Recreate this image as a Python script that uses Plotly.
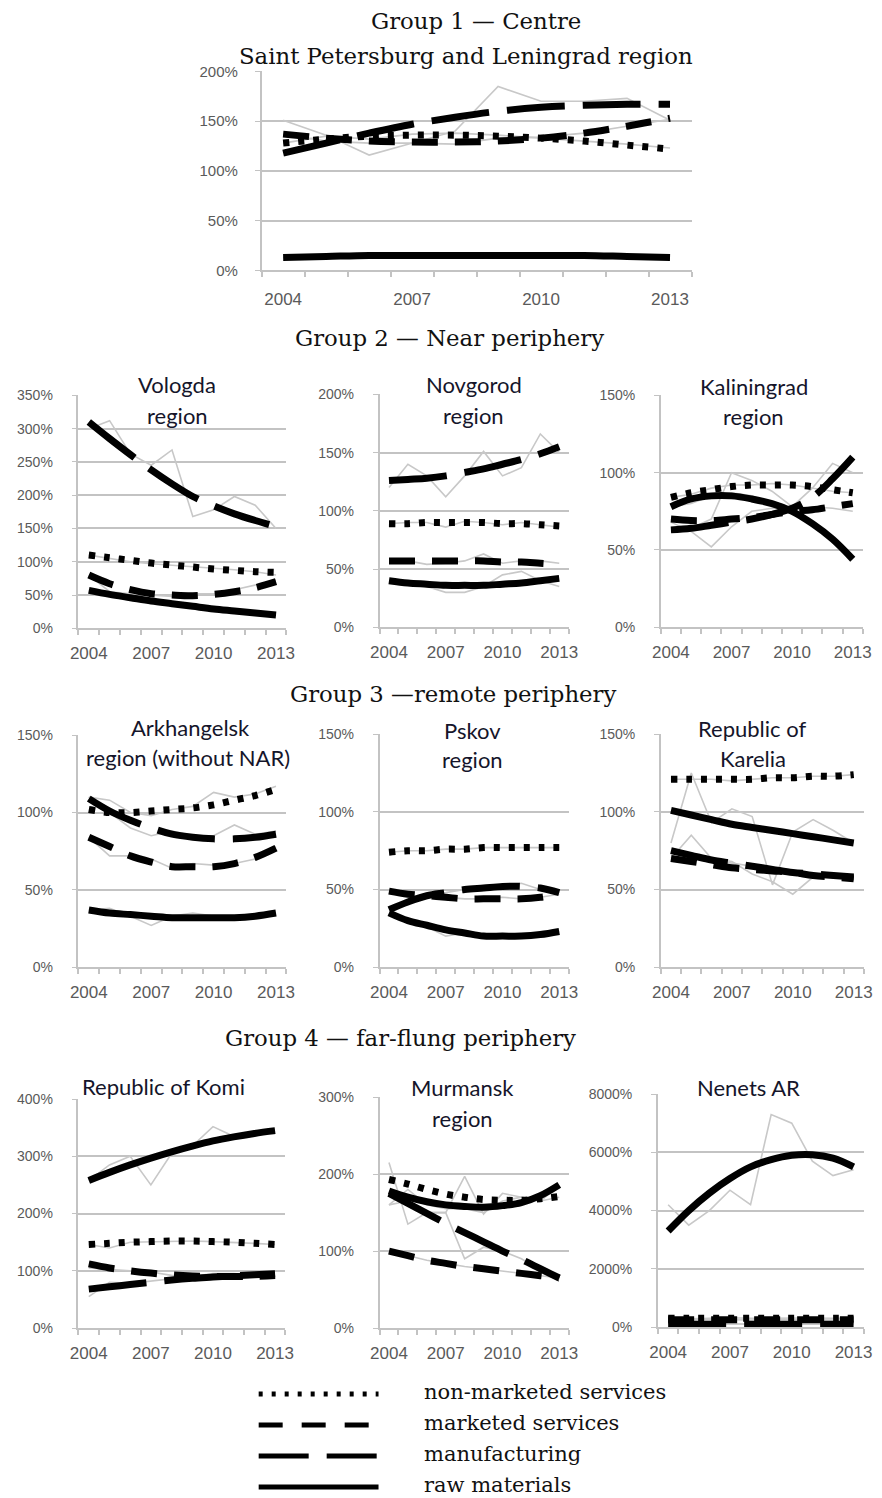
import plotly.graph_objects as go

W, H = 882, 1498
YEARS = list(range(2004, 2014))
X_LABELS = [2004, 2007, 2010, 2013]
SERIES = ["non-marketed services", "marketed services", "manufacturing", "raw materials"]

# ---------- Group 1: Saint Petersburg and Leningrad region ----------
spb_nonmkt_actual = [128, 135, 132, 137, 138, 136, 133, 130, 127, 123]
spb_nonmkt_trend = [128, 132, 135, 136, 136, 135, 133, 130, 126, 122]
spb_mkt_actual = [137, 130, 128, 128, 127, 133, 134, 138, 145, 152]
spb_mkt_trend = [137, 133, 130, 129, 129, 130, 133, 138, 145, 153]
spb_manuf_actual = [151, 136, 116, 128, 140, 185, 170, 170, 173, 151]
spb_manuf_trend = [118, 128, 138, 147, 154, 160, 164, 166, 167, 167]
spb_raw_actual = [13, 14, 15, 15, 15, 15, 15, 15, 14, 13]
spb_raw_trend = [13, 14, 15, 15, 15, 15, 15, 15, 14, 13]

# ---------- Group 2 ----------
vol_nonmkt_actual = [110, 105, 100, 97, 95, 93, 90, 88, 85, 80]
vol_nonmkt_trend = [110, 106, 102, 98, 95, 92, 89, 87, 85, 84]
vol_mkt_actual = [80, 55, 52, 50, 48, 52, 52, 58, 65, 72]
vol_mkt_trend = [80, 67, 58, 52, 50, 49, 51, 55, 61, 70]
vol_manuf_actual = [300, 312, 262, 245, 268, 168, 178, 198, 185, 150]
vol_manuf_trend = [310, 285, 261, 238, 217, 198, 184, 172, 162, 153]
vol_raw_actual = [57, 50, 46, 42, 37, 33, 30, 26, 23, 20]
vol_raw_trend = [57, 51, 46, 41, 37, 33, 29, 26, 23, 20]

nov_nonmkt_actual = [89, 90, 90, 86, 91, 90, 88, 90, 88, 86]
nov_nonmkt_trend = [89, 89, 90, 90, 90, 90, 89, 89, 88, 87]
nov_mkt_actual = [57, 57, 54, 55, 57, 63, 55, 57, 57, 55]
nov_mkt_trend = [57, 57, 57, 57, 57, 57, 56, 56, 55, 54]
nov_manuf_actual = [120, 140, 130, 112, 130, 151, 130, 137, 166, 150]
nov_manuf_trend = [126, 127, 128, 130, 133, 136, 140, 144, 149, 155]
nov_raw_actual = [40, 38, 35, 30, 30, 35, 45, 48, 40, 35]
nov_raw_trend = [40, 38, 37, 36, 36, 36, 37, 38, 40, 42]

kal_nonmkt_actual = [84, 86, 90, 92, 92, 93, 92, 90, 88, 87]
kal_nonmkt_trend = [84, 87, 89, 91, 92, 92, 92, 91, 89, 87]
kal_mkt_actual = [68, 62, 52, 65, 75, 77, 76, 78, 77, 75]
kal_mkt_trend = [70, 69, 69, 70, 71, 73, 75, 76, 78, 80]
kal_manuf_actual = [62, 64, 70, 100, 95, 88, 78, 90, 106, 100]
kal_manuf_trend = [63, 64, 66, 68, 70, 73, 77, 84, 96, 110]
kal_raw_actual = [78, 80, 85, 87, 85, 80, 77, 66, 57, 45]
kal_raw_trend = [78, 83, 85, 85, 83, 80, 75, 67, 57, 44]

# ---------- Group 3 ----------
ark_nonmkt_actual = [110, 108, 100, 98, 102, 104, 113, 110, 112, 117]
ark_nonmkt_trend = [102, 100, 100, 101, 102, 103, 105, 108, 111, 115]
ark_mkt_actual = [84, 72, 72, 70, 64, 67, 66, 67, 70, 78]
ark_mkt_trend = [84, 78, 72, 68, 65, 65, 65, 67, 71, 77]
ark_manuf_actual = [110, 100, 90, 85, 88, 85, 85, 92, 86, 88]
ark_manuf_trend = [109, 101, 95, 90, 86, 84, 83, 83, 84, 86]
ark_raw_actual = [37, 38, 33, 27, 33, 35, 33, 33, 33, 34]
ark_raw_trend = [37, 35, 34, 33, 32, 32, 32, 32, 33, 35]

psk_nonmkt_actual = [74, 75, 75, 76, 76, 77, 77, 77, 77, 77]
psk_nonmkt_trend = [74, 75, 75, 76, 76, 77, 77, 77, 77, 77]
psk_mkt_actual = [49, 46, 46, 45, 44, 44, 45, 44, 45, 47]
psk_mkt_trend = [49, 47, 46, 45, 44, 44, 44, 44, 45, 47]
psk_manuf_actual = [38, 43, 47, 48, 50, 51, 52, 54, 50, 48]
psk_manuf_trend = [37, 42, 46, 48, 50, 51, 52, 52, 51, 48]
psk_raw_actual = [35, 30, 26, 20, 22, 20, 20, 20, 21, 23]
psk_raw_trend = [35, 30, 27, 24, 22, 20, 20, 20, 21, 23]

kar_nonmkt_actual = [121, 121, 121, 120, 121, 122, 122, 123, 123, 124]
kar_nonmkt_trend = [121, 121, 121, 121, 121, 122, 122, 123, 123, 124]
kar_mkt_actual = [70, 85, 70, 68, 60, 55, 47, 58, 60, 58]
kar_mkt_trend = [70, 68, 66, 64, 63, 62, 61, 59, 58, 57]
kar_manuf_actual = [75, 72, 69, 67, 65, 63, 62, 60, 59, 58]
kar_manuf_trend = [75, 72, 69, 67, 65, 63, 61, 60, 59, 58]
kar_raw_actual = [80, 125, 93, 102, 97, 53, 87, 95, 88, 80]
kar_raw_trend = [101, 98, 95, 92, 90, 88, 86, 84, 82, 80]

# ---------- Group 4 ----------
komi_nonmkt_actual = [146, 140, 150, 151, 152, 152, 151, 150, 148, 146]
komi_nonmkt_trend = [146, 148, 150, 151, 152, 152, 151, 150, 148, 146]
komi_mkt_actual = [105, 102, 100, 98, 92, 90, 95, 95, 92, 93]
komi_mkt_trend = [112, 105, 100, 96, 93, 91, 90, 90, 90, 92]
komi_manuf_actual = [55, 80, 78, 82, 85, 90, 92, 90, 90, 92]
komi_manuf_trend = [68, 72, 76, 80, 84, 87, 89, 91, 93, 95]
komi_raw_actual = [258, 285, 300, 250, 305, 318, 352, 335, 340, 340]
komi_raw_trend = [258, 272, 285, 297, 308, 318, 327, 334, 340, 345]

mur_nonmkt_actual = [215, 135, 150, 150, 197, 148, 175, 170, 165, 170]
mur_nonmkt_trend = [193, 187, 180, 174, 170, 167, 166, 166, 168, 171]
mur_mkt_actual = [100, 94, 88, 84, 80, 77, 74, 71, 68, 65]
mur_mkt_trend = [100, 94, 88, 84, 80, 77, 74, 71, 68, 65]
mur_manuf_actual = [160, 165, 150, 150, 90, 105, 100, 90, 75, 65]
mur_manuf_trend = [175, 162, 149, 136, 124, 112, 100, 89, 77, 65]
mur_raw_actual = [160, 180, 160, 155, 155, 150, 165, 170, 165, 185]
mur_raw_trend = [178, 170, 164, 160, 158, 157, 159, 163, 172, 186]

nen_nonmkt_actual = [300, 280, 300, 320, 300, 310, 300, 310, 300, 300]
nen_nonmkt_trend = [300, 300, 300, 300, 300, 300, 300, 300, 300, 300]
nen_mkt_actual = [250, 240, 260, 250, 240, 260, 250, 250, 240, 250]
nen_mkt_trend = [250, 250, 250, 250, 250, 250, 250, 250, 250, 250]
nen_manuf_actual = [120, 100, 110, 100, 90, 100, 100, 90, 100, 100]
nen_manuf_trend = [100, 100, 100, 100, 100, 100, 100, 100, 100, 100]
nen_raw_actual = [4200, 3500, 4000, 4700, 4200, 7300, 7000, 5700, 5200, 5400]
nen_raw_trend = [3300, 4000, 4600, 5100, 5500, 5750, 5900, 5920, 5800, 5500]

PANEL_DATA = {
    "spb": [(spb_nonmkt_actual, spb_nonmkt_trend), (spb_mkt_actual, spb_mkt_trend),
            (spb_manuf_actual, spb_manuf_trend), (spb_raw_actual, spb_raw_trend)],
    "vol": [(vol_nonmkt_actual, vol_nonmkt_trend), (vol_mkt_actual, vol_mkt_trend),
            (vol_manuf_actual, vol_manuf_trend), (vol_raw_actual, vol_raw_trend)],
    "nov": [(nov_nonmkt_actual, nov_nonmkt_trend), (nov_mkt_actual, nov_mkt_trend),
            (nov_manuf_actual, nov_manuf_trend), (nov_raw_actual, nov_raw_trend)],
    "kal": [(kal_nonmkt_actual, kal_nonmkt_trend), (kal_mkt_actual, kal_mkt_trend),
            (kal_manuf_actual, kal_manuf_trend), (kal_raw_actual, kal_raw_trend)],
    "ark": [(ark_nonmkt_actual, ark_nonmkt_trend), (ark_mkt_actual, ark_mkt_trend),
            (ark_manuf_actual, ark_manuf_trend), (ark_raw_actual, ark_raw_trend)],
    "psk": [(psk_nonmkt_actual, psk_nonmkt_trend), (psk_mkt_actual, psk_mkt_trend),
            (psk_manuf_actual, psk_manuf_trend), (psk_raw_actual, psk_raw_trend)],
    "kar": [(kar_nonmkt_actual, kar_nonmkt_trend), (kar_mkt_actual, kar_mkt_trend),
            (kar_manuf_actual, kar_manuf_trend), (kar_raw_actual, kar_raw_trend)],
    "komi": [(komi_nonmkt_actual, komi_nonmkt_trend), (komi_mkt_actual, komi_mkt_trend),
             (komi_manuf_actual, komi_manuf_trend), (komi_raw_actual, komi_raw_trend)],
    "mur": [(mur_nonmkt_actual, mur_nonmkt_trend), (mur_mkt_actual, mur_mkt_trend),
            (mur_manuf_actual, mur_manuf_trend), (mur_raw_actual, mur_raw_trend)],
    "nen": [(nen_nonmkt_actual, nen_nonmkt_trend), (nen_mkt_actual, nen_mkt_trend),
            (nen_manuf_actual, nen_manuf_trend), (nen_raw_actual, nen_raw_trend)],
}

# layout of panels: key, (left, right, top, bottom) in px, y max, y step, title lines
PANELS = [
    ("spb", (258, 692, 70, 269), 200, 50, []),
    ("vol", (73, 283, 394, 627), 350, 50, [("Vologda", 173, 383), ("region", 173, 414)]),
    ("nov", (377, 568, 393, 626), 200, 50, [("Novgorod", 472, 383), ("region", 472, 414)]),
    ("kal", (661, 865, 394, 626), 150, 50, [("Kaliningrad", 755, 385), ("region", 755, 415)]),
    ("ark", (73, 283, 734, 966), 150, 50, [("Arkhangelsk", 186, 726), ("region (without NAR)", 184, 756)]),
    ("psk", (377, 568, 733, 966), 150, 50, [("Pskov", 471, 729), ("region", 471, 758)]),
    ("kar", (661, 866, 733, 966), 150, 50, [("Republic of", 753, 727), ("Karelia", 754, 757)]),
    ("komi", (73, 282, 1098, 1327), 400, 100, [("Republic of Komi", 159, 1085)]),
    ("mur", (377, 568, 1096, 1327), 300, 100, [("Murmansk", 461, 1086), ("region", 461, 1117)]),
    ("nen", (658, 866, 1093, 1326), 8000, 2000, [("Nenets AR", 750, 1086)]),
]

DASHES = ["6px,9px", "26px,17px", "58px,18px", "solid"]
GRID = "#c3c3c3"
XTICKFONT = dict(family="Liberation Sans", size=17, color="#5a5a5a")
YTICKFONT = dict(family="Liberation Sans", size=14, color="#5a5a5a")

# empirical mapping of the rendered page: rendered = S * figure_px + offset
S, OX, OY = 0.989, 11.0, 15.5


def px(x):
    return (x - OX) / S / W


def py(y):
    return 1 - (y - OY) / S / H


fig = go.Figure()
layout = dict(width=W, height=H, autosize=False, margin=dict(l=0, r=0, t=0, b=0),
              paper_bgcolor="white", plot_bgcolor="white", showlegend=False)
annotations = []
shapes = []

for i, (key, (l, r, t, b), ymax, ystep, titles) in enumerate(PANELS):
    n = "" if i == 0 else str(i + 1)
    xa, ya = "x" + n, "y" + n
    for (actual, trend), dash in zip(PANEL_DATA[key], DASHES):
        fig.add_trace(go.Scatter(x=YEARS, y=actual, mode="lines", xaxis=xa, yaxis=ya,
                                 line=dict(color="#c8c8c8", width=1.6), hoverinfo="skip"))
    for (actual, trend), dash, name in zip(PANEL_DATA[key], DASHES, SERIES):
        fig.add_trace(go.Scatter(x=YEARS, y=trend, mode="lines", xaxis=xa, yaxis=ya, name=name,
                                 line=dict(color="black", width=7, dash=dash, shape="spline",
                                           smoothing=1.0)))
    top = i == 0
    layout["xaxis" + n] = dict(
        domain=[px(l), px(r)], anchor=ya, range=[2003.5, 2013.5],
        tickmode="array", tickvals=X_LABELS, ticktext=[str(v) for v in X_LABELS],
        ticks="outside", ticklen=5, tickcolor="rgba(0,0,0,0)",
        ticklabelstandoff=7 if top else 4,
        minor=dict(tickmode="linear", tick0=2003.5, dtick=1, ticks="outside",
                   ticklen=5, tickcolor=GRID, tickwidth=1.5, showgrid=False),
        showgrid=False, zeroline=False, showline=True, linecolor=GRID, linewidth=1.5,
        tickfont=XTICKFONT, fixedrange=True)
    layout["yaxis" + n] = dict(
        domain=[py(b), py(t)], anchor=xa, range=[0, ymax],
        tickmode="linear", tick0=0, dtick=ystep, ticksuffix="%", tickformat="d",
        showgrid=True, gridcolor=GRID, gridwidth=1.5, zeroline=False,
        showline=True, linecolor=GRID, linewidth=1.5,
        ticks="outside", ticklen=5, tickcolor=GRID, ticklabelstandoff=14 if top else 16,
        tickfont=dict(YTICKFONT, size=15 if top else 14), fixedrange=True)
    for text, cx, cy in titles:
        annotations.append(dict(text=text, x=px(cx), y=py(cy), xref="paper", yref="paper",
                                showarrow=False, xanchor="center", yanchor="middle",
                                font=dict(family="Lato", size=22, color="#15152a")))

SERIF = "DejaVu Serif"
headers = [
    ("Group 1 — Centre", 474, 20),
    ("Saint Petersburg and Leningrad region", 464, 55),
    ("Group 2 — Near periphery", 448, 337),
    ("Group 3 —remote periphery", 451, 693),
    ("Group 4 — far-flung periphery", 398, 1037),
]
for text, cx, cy in headers:
    annotations.append(dict(text=text, x=px(cx), y=py(cy), xref="paper", yref="paper",
                            showarrow=False, xanchor="center", yanchor="middle",
                            font=dict(family=SERIF, size=22.8, color="#111")))

# custom legend at the bottom
legend_dash = ["4px,9px", "24px,19px", "50px,18px", "solid"]
legend_y = [1393, 1424, 1455, 1486]
for name, dash, ly in zip(SERIES, legend_dash, legend_y):
    shapes.append(dict(type="line", xref="paper", yref="paper", x0=px(255), x1=px(376),
                       y0=py(ly), y1=py(ly), line=dict(color="black", width=5, dash=dash)))
    annotations.append(dict(text=name, x=px(420), y=py(ly - 2), xref="paper", yref="paper",
                            showarrow=False, xanchor="left", yanchor="middle",
                            font=dict(family=SERIF, size=21, color="#111")))

layout["annotations"] = annotations
layout["shapes"] = shapes
fig.update_layout(**layout)
fig.write_html("out.html")
